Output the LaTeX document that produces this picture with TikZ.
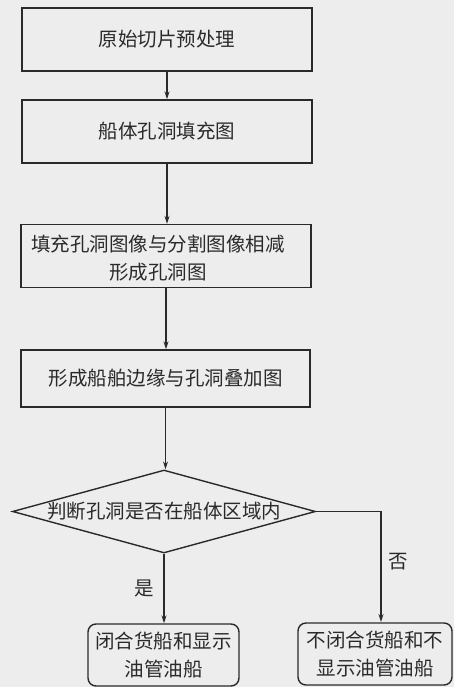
\documentclass[tikz,border=0pt]{standalone}
\usepackage{fontspec}
\setmainfont{Noto Sans CJK SC}
\usetikzlibrary{shapes.geometric,arrows.meta}
\definecolor{ink}{HTML}{2A2A2A}
\definecolor{paper}{HTML}{EDEDED}
\begin{document}
\begin{tikzpicture}[x=1pt,y=-1pt,
  every node/.style={font=\fontsize{19.5}{28}\selectfont, text=ink},
  stepbox/.style={draw=ink, line width=1.4pt, minimum width=290pt, minimum height=63pt, inner sep=0pt, align=center},
  endbox/.style={draw=ink, line width=1.4pt, rounded corners=8pt, minimum height=62pt, inner sep=0pt, align=center},
  decide/.style={draw=ink, line width=1.4pt, diamond, aspect=3.65, minimum width=303pt, minimum height=83pt, inner sep=0pt},
  flow/.style={draw=ink, line width=1.1pt, -{Stealth[length=8pt,width=5pt]}},
  lbl/.style={font=\fontsize{19.5}{22}\selectfont}]
\fill[paper] (0,0) rectangle (454,687);
\useasboundingbox (0,0) rectangle (454,687);
\node[stepbox] (b1) at (167,39.5) {原始切片预处理};
\node[stepbox] (b2) at (167,131.5) {船体孔洞填充图};
\node[stepbox] (b3) at (166,256) {};
\node (t3) at (158,258) [align=center] {填充孔洞图像与分割图像相减\\形成孔洞图};
\node[stepbox, minimum width=289pt, minimum height=57pt] (b4) at (165.5,378.5) {形成船舶边缘与孔洞叠加图};
\node[decide] (d) at (164,511.5) {判断孔洞是否在船体区域内};
\node[endbox, minimum width=151pt] (yes) at (163.5,655) {闭合货船和显示\\油管油船};
\node[endbox, minimum width=154pt] (no) at (375,654) {不闭合货船和不\\显示油管油船};
\coordinate (nox) at (381,622);
\draw[flow] (b1.south) -- (b2.north);
\draw[flow] (b2.south) -- (b2.south |- b3.north);
\draw[flow] (b3.south) -- (b3.south |- b4.north);
\draw[flow] (b4.south) -- (b4.south |- d.north);
\draw[flow] (d.south) -- (d.south |- yes.north) node[lbl, pos=0.5, left=6pt] {是};
\draw[flow] (d.east) -- (d.east -| nox) -- (nox) node[lbl, pos=0.45, right=4pt] {否};
\end{tikzpicture}
\end{document}
